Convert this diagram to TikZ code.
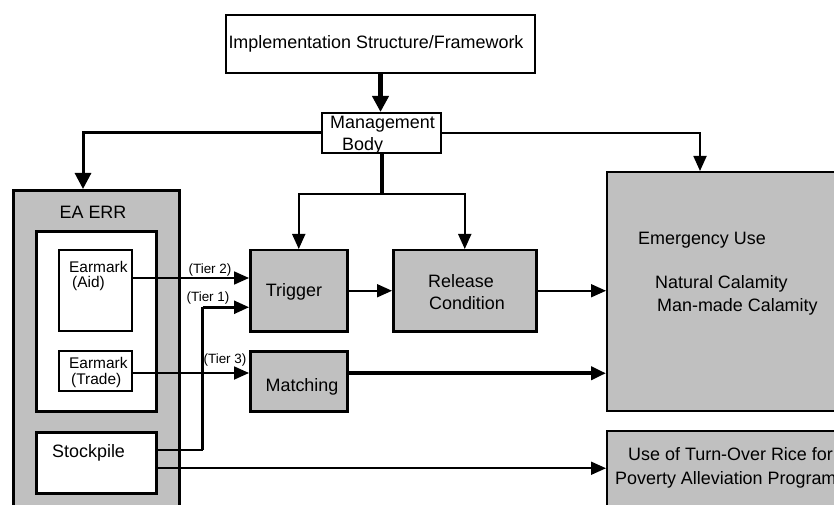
\documentclass[tikz,border=0pt]{standalone}
\usepackage{fontspec}
\setmainfont{Liberation Sans}
\usetikzlibrary{arrows.meta}

\definecolor{boxgray}{HTML}{C0C0C0}

\tikzset{
  blk/.style={draw=black, rectangle, inner sep=0pt, anchor=north west},
  grayblk/.style={blk, fill=boxgray},
  whiteblk/.style={blk, fill=white},
  txt/.style={inner sep=0pt, font=\fontsize{18}{20}\selectfont},
  midtxt/.style={inner sep=0pt, font=\fontsize{15.5}{18}\selectfont},
  tiertxt/.style={inner sep=0pt, font=\fontsize{13.5}{15}\selectfont},
  arr/.style={-{Triangle[length=15bp,width=13bp]}, line width=1.8bp},
  bigarr/.style={-{Triangle[length=16bp,width=16bp]}, line width=3.5bp},
  link/.style={line width=1.8bp},
}

\begin{document}
\begin{tikzpicture}[x=1bp,y=-1bp]
  \clip (0,0) rectangle (834,505);
  \fill[white] (0,0) rectangle (834,505);

  % framework and management
  \node[whiteblk, line width=2bp, minimum width=309bp, minimum height=58bp] (top) at (225,14) {};
  \node[whiteblk, line width=2bp, minimum width=119bp, minimum height=40bp] (mgmt) at (321,112) {};

  % EA ERR reserve
  \node[grayblk, line width=3bp, minimum width=166bp, minimum height=340bp] (eaerr) at (12,189) {};
  \node[whiteblk, line width=3bp, minimum width=120bp, minimum height=180bp] (earmarks) at (35,230) {};
  \node[whiteblk, line width=2bp, minimum width=73bp, minimum height=81bp] (aid) at (58,249) {};
  \node[whiteblk, line width=2bp, minimum width=73bp, minimum height=40bp] (trade) at (58,350) {};
  \node[whiteblk, line width=2.5bp, minimum width=120bp, minimum height=61bp] (stock) at (35,431) {};

  % process steps
  \node[grayblk, line width=2.5bp, minimum width=97bp, minimum height=81bp] (trigger) at (249,249) {};
  \node[grayblk, line width=2.5bp, minimum width=143bp, minimum height=81bp] (release) at (392,249) {};
  \node[grayblk, line width=2.5bp, minimum width=97bp, minimum height=60bp] (matching) at (249,350) {};

  % uses
  \node[grayblk, line width=2bp, minimum width=260bp, minimum height=239bp] (emerg) at (606,171) {};
  \node[grayblk, line width=2bp, minimum width=260bp, minimum height=100bp] (turnover) at (606,430) {};

  % texts
  \node[txt] (topT) at (376,44) {Implementation Structure/Framework};
  \node[txt, anchor=west] (mgmtT1) at (330,124) {Management};
  \node[txt, anchor=west] (mgmtT2) at (342,146) {Body};
  \node[txt] (eaerrT) at (93,212) {EA ERR};
  \node[midtxt, anchor=west] (aidT1) at (69,267) {Earmark};
  \node[midtxt, anchor=west] (aidT2) at (72,284) {(Aid)};
  \node[midtxt, anchor=west] (tradeT1) at (69,363) {Earmark};
  \node[midtxt, anchor=west] (tradeT2) at (71,381) {(Trade)};
  \node[txt, anchor=west] (stockT) at (52,453) {Stockpile};
  \node[txt] (triggerT) at (294,292) {Trigger};
  \node[txt] (releaseT1) at (461,281) {Release};
  \node[txt] (releaseT2) at (467,303) {Condition};
  \node[txt] (matchingT) at (302,387) {Matching};
  \node[txt, anchor=west] (emergT1) at (638,240) {Emergency Use};
  \node[txt, anchor=west] (emergT2) at (655,284) {Natural Calamity};
  \node[txt, anchor=west] (emergT3) at (657,307) {Man-made Calamity};
  \node[txt, anchor=west] (turnT1) at (628,454) {Use of Turn-Over Rice for};
  \node[txt, anchor=west] (turnT2) at (615,480) {Poverty Alleviation Program};
  \node[tiertxt] (tier2) at (210,270) {(Tier 2)};
  \node[tiertxt] (tier1) at (208,298) {(Tier 1)};
  \node[tiertxt] (tier3) at (225,360) {(Tier 3)};

  % management connectors
  \draw[bigarr, line width=4.5bp] (top.south) -- (top.south |- mgmt.north);
  \draw[bigarr, line width=3bp] (mgmt.west) -| ([xshift=71bp]eaerr.north west);
  \draw[arr] (mgmt.east) -| ([xshift=94bp]emerg.north west);
  \coordinate (split) at ([yshift=-40bp]mgmt.south);
  \draw[link, line width=4bp] (mgmt.south) -- (split);
  \draw[arr] (split) -| (trigger.north);
  \draw[arr] (split) -| (release.north);

  % tier connectors
  \draw[arr] ([yshift=12.5bp]aid.east) coordinate (t2s) -- (t2s -| trigger.west);
  \coordinate (t1a) at ([xshift=45bp,yshift=12.5bp]stock.east);
  \coordinate (t1b) at ([yshift=-16.5bp]trigger.west -| t1a);
  \draw[link, line width=2bp] ([yshift=12.5bp]stock.east) -- (t1a);
  \draw[link, line width=3.5bp] (t1a) -- (t1b);
  \draw[arr, line width=2.5bp] (t1b) -- ([yshift=-16.5bp]trigger.west);
  \draw[arr] ([yshift=-2bp]trade.east) coordinate (t3s) -- (t3s -| matching.west);

  % flow to uses
  \draw[arr] (trigger.east) -- (release.west);
  \draw[arr] (release.east) -- (release.east -| emerg.west);
  \draw[arr, line width=4bp] ([yshift=8bp]matching.east) coordinate (ms) -- (ms -| emerg.west);
  \draw[arr] ([yshift=-5.5bp]stock.east) coordinate (ss) -- (ss -| turnover.west);
\end{tikzpicture}
\end{document}
